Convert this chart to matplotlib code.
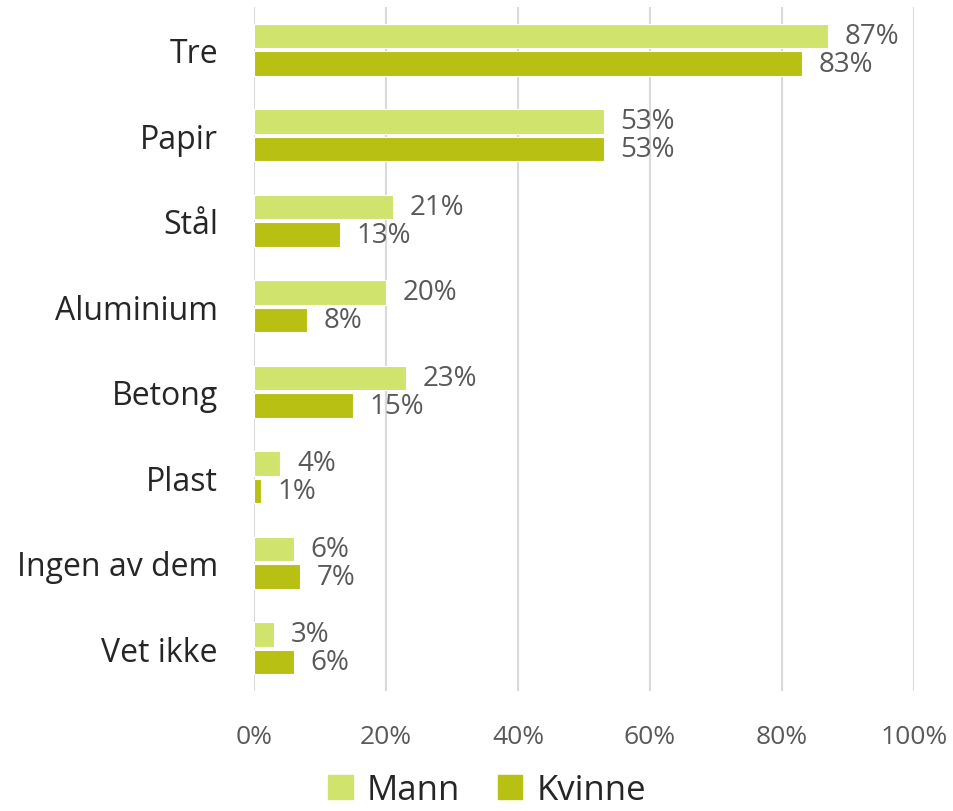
import numpy as np
import matplotlib
matplotlib.use('Agg')
import matplotlib.pyplot as plt
from matplotlib.patches import Patch

plt.rcParams['font.family'] = ['Open Sans', 'DejaVu Sans']

categories = ['Tre', 'Papir', 'Stål', 'Aluminium', 'Betong', 'Plast', 'Ingen av dem', 'Vet ikke']
mann = [87, 53, 21, 20, 23, 4, 6, 3]
kvinne = [83, 53, 13, 8, 15, 1, 7, 6]
xticks = [0, 20, 40, 60, 80, 100]

c_mann = '#cfe36d'
c_kvinne = '#b8c014'

fig = plt.figure(figsize=(9.54, 8.12), dpi=100)
ax = fig.add_axes([254/954, 1 - 692/812, 660/954, 684/812])

y = np.arange(len(categories))
h = 0.285
ax.barh(y - h/2 - 0.02, mann, height=h, color=c_mann, edgecolor='white', linewidth=0.8, zorder=3)
ax.barh(y + h/2 + 0.02, kvinne, height=h, color=c_kvinne, edgecolor='white', linewidth=0.8, zorder=3)

for yi, m, k in zip(y, mann, kvinne):
    ax.annotate(f'{m}%', (m, yi - h/2 - 0.02), xytext=(12, 0), textcoords='offset points',
                va='center', ha='left', fontsize=20, color='#595959')
    ax.annotate(f'{k}%', (k, yi + h/2 + 0.02), xytext=(12, 0), textcoords='offset points',
                va='center', ha='left', fontsize=20, color='#595959')

ax.set_ylim(len(categories) - 0.5, -0.5)
ax.set_xlim(0, 100)
ax.set_yticks(y)
ax.set_yticklabels(categories, fontsize=23, color='#262626')
ax.set_xticks(xticks)
ax.set_xticklabels([f'{t}%' for t in xticks], fontsize=19, color='#595959')
ax.tick_params(axis='both', length=0)
ax.tick_params(axis='y', pad=26)
ax.tick_params(axis='x', pad=24)
ax.xaxis.grid(True, color='#d9d9d9', linewidth=1.5, zorder=0)
for s in ax.spines.values():
    s.set_visible(False)

handles = [Patch(color=c_mann, label='Mann'), Patch(color=c_kvinne, label='Kvinne')]
fig.legend(handles=handles, loc='center', bbox_to_anchor=(487/954, 1 - 791/812), ncol=2,
           frameon=False, fontsize=25, handlelength=0.7, handleheight=0.7,
           handletextpad=0.4, columnspacing=1.1, labelcolor='#262626',
           borderpad=0)

fig.savefig('out.png', dpi=100)
